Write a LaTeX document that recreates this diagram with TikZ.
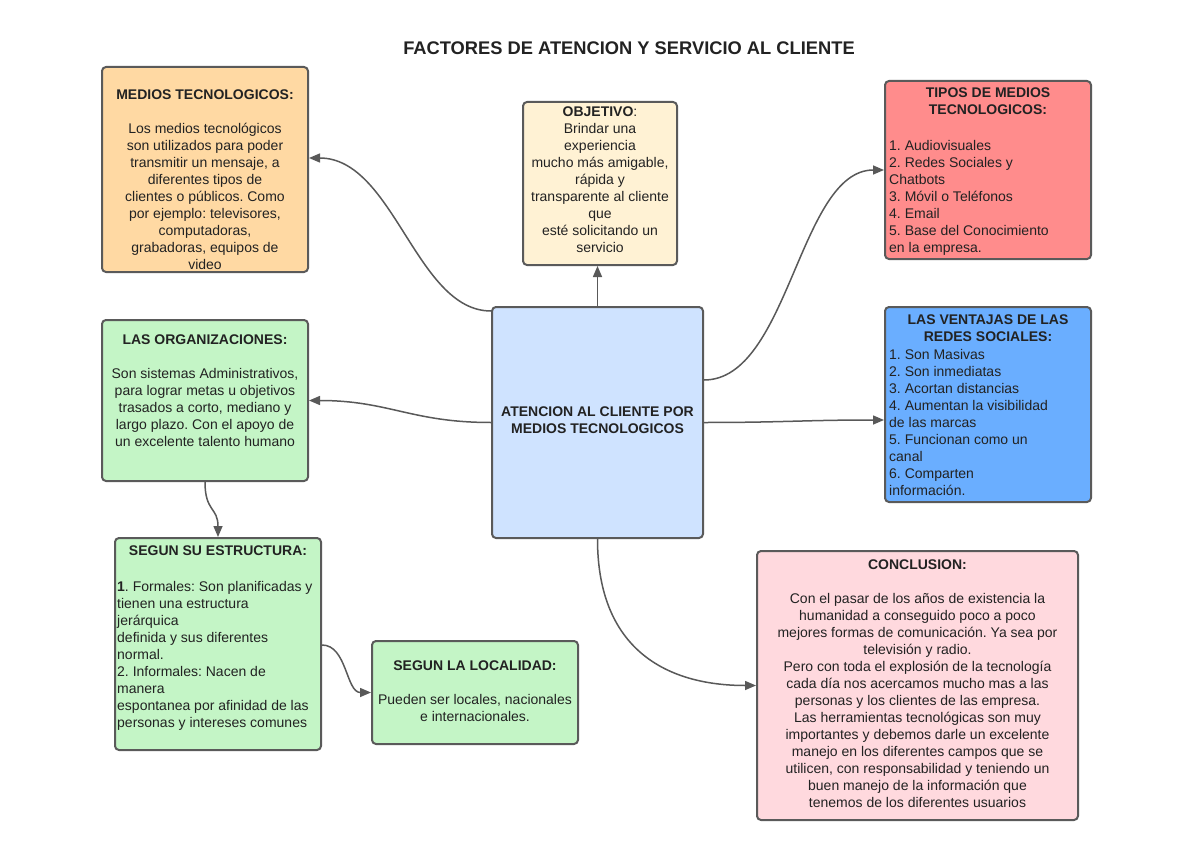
\documentclass[tikz,border=0pt]{standalone}
\usepackage{fontspec}
\setmainfont{Liberation Sans}
\usetikzlibrary{arrows.meta}
\frenchspacing
\definecolor{bordc}{HTML}{5A5A5A}
\definecolor{linec}{HTML}{595959}
\definecolor{txtc}{HTML}{222222}
\definecolor{medc}{HTML}{FFD9A3}
\definecolor{objc}{HTML}{FFF2D4}
\definecolor{tipc}{HTML}{FF8C8C}
\definecolor{venc}{HTML}{6AAEFF}
\definecolor{grnc}{HTML}{C4F5C6}
\definecolor{cenc}{HTML}{CFE3FF}
\definecolor{conc}{HTML}{FFD9DE}
\begin{document}
\frenchspacing
\begin{tikzpicture}[x=1pt,y=-1pt,
  box/.style={draw=bordc, line width=2pt, rounded corners=4pt, inner sep=0pt},
  txt/.style={anchor=north, inner sep=0pt, text=txtc, font=\fontsize{14}{17}\selectfont},
  ltxt/.style={anchor=north west, inner sep=0pt, text=txtc, align=left, font=\fontsize{14}{17}\selectfont},
  conn/.style={draw=linec, line width=1.5pt, -{Triangle[length=11pt,width=9pt]}},
]
\useasboundingbox (0,0) rectangle (1200,848);
\fill[white] (0,0) rectangle (1200,848);

\node[font=\fontsize{18.3}{22}\selectfont\bfseries, text=txtc, inner sep=0pt] (title) at (629,48) {FACTORES DE ATENCION Y SERVICIO AL CLIENTE};

% boxes
\node[box, fill=medc, minimum width=206pt, minimum height=205pt] (med) at (205,169.5) {};
\node[box, fill=objc, minimum width=154pt, minimum height=163pt] (obj) at (600,183.5) {};
\node[box, fill=tipc, minimum width=206pt, minimum height=178pt] (tip) at (988,170) {};
\node[box, fill=venc, minimum width=206pt, minimum height=195pt] (ven) at (988,404.5) {};
\node[box, fill=grnc, minimum width=206pt, minimum height=161pt] (org) at (205,400.5) {};
\node[box, fill=cenc, minimum width=211pt, minimum height=231pt] (cen) at (597.5,422.5) {};
\node[box, fill=grnc, minimum width=206pt, minimum height=212pt] (est) at (218,644) {};
\node[box, fill=grnc, minimum width=206pt, minimum height=103pt] (loc) at (475,692.5) {};
\node[box, fill=conc, minimum width=321pt, minimum height=269pt] (con) at (917.5,685.5) {};

% texts
\node[txt, align=center] (medt) at (205,90) {\textbf{MEDIOS TECNOLOGICOS:}\\[17pt]
Los medios tecnológicos\\son utilizados para poder\\transmitir un mensaje, a\\diferentes tipos de\\clientes o públicos. Como\\por ejemplo: televisores,\\computadoras,\\grabadoras, equipos de\\video};

\node[txt, align=center] (objt) at (600,107) {\textbf{OBJETIVO}:\\Brindar una\\experiencia\\mucho más amigable,\\rápida y\\transparente al cliente\\que\\esté solicitando un\\servicio};

\node[txt, align=center, font=\fontsize{14}{17}\selectfont\bfseries] (tiph) at (988,88) {TIPOS DE MEDIOS\\TECNOLOGICOS:};
\node[ltxt] (tipt) at (889,140) {1. Audiovisuales\\2. Redes Sociales y\\Chatbots\\3. Móvil o Teléfonos\\4. Email\\5. Base del Conocimiento\\en la empresa.};

\node[txt, align=center, font=\fontsize{14}{17}\selectfont\bfseries] (venh) at (988,315) {LAS VENTAJAS DE LAS\\REDES SOCIALES:};
\node[ltxt] (vent) at (889,349) {1. Son Masivas\\2. Son inmediatas\\3. Acortan distancias\\4. Aumentan la visibilidad\\de las marcas\\5. Funcionan como un\\canal\\6. Comparten\\información.};

\node[txt, align=center] (orgt) at (205,335) {\textbf{LAS ORGANIZACIONES:}\\[17pt]
Son sistemas Administrativos,\\para lograr metas u objetivos\\trasados a corto, mediano y\\largo plazo. Con el apoyo de\\un excelente talento humano};

\node[txt, align=center, font=\fontsize{14}{17}\selectfont\bfseries] (cent) at (597.5,407) {ATENCION AL CLIENTE POR\\MEDIOS TECNOLOGICOS};

\node[txt, align=center, font=\fontsize{14}{17}\selectfont\bfseries] (esth) at (218,546) {SEGUN SU ESTRUCTURA:};
\node[ltxt] (estt) at (117,581) {\textbf{1}. Formales: Son planificadas y\\tienen una estructura\\jerárquica\\definida y sus diferentes\\normal.\\2. Informales: Nacen de\\manera\\espontanea por afinidad de las\\personas y intereses comunes};

\node[txt, align=center] (loct) at (475,661) {\textbf{SEGUN LA LOCALIDAD:}\\[17pt]
Pueden ser locales, nacionales\\e internacionales.};

\node[txt, align=center] (cont) at (917.5,560) {\textbf{CONCLUSION:}\\[17pt]
Con el pasar de los años de existencia la\\humanidad a conseguido poco a poco\\mejores formas de comunicación. Ya sea por\\televisión y radio.\\Pero con toda el explosión de la tecnología\\cada día nos acercamos mucho mas a las\\personas y los clientes de las empresa.\\Las herramientas tecnológicas son muy\\importantes y debemos darle un excelente\\manejo en los diferentes campos que se\\utilicen, con responsabilidad y teniendo un\\buen manejo de la información que\\tenemos de los diferentes usuarios};

% connectors
\draw[conn] ([yshift=-5pt]cen.north west) .. controls +(-75,0) and +(85,0) .. ([yshift=11.5pt]med.east);
\draw[conn] (cen.north) -- (cen.north |- obj.south);
\draw[conn] ([yshift=42.5pt]cen.east) .. controls +(85,0) and +(-85,0) .. (tip.west);
\draw[conn] (cen.east) .. controls +(80,0) and +(-80,0) .. ([yshift=-15.5pt]ven.west);
\draw[conn] (cen.west) .. controls +(-80,0) and +(80,0) .. (org.east);
\draw[conn] (org.south) .. controls +(0,30) and +(0,-30) .. (est.north);
\draw[conn] ([yshift=-1pt]est.east) .. controls +(25,0) and +(-25,0) .. (loc.west);
\draw[conn] (cen.south) .. controls +(0,110) and +(-90,0) .. (con.west);
\end{tikzpicture}
\end{document}
